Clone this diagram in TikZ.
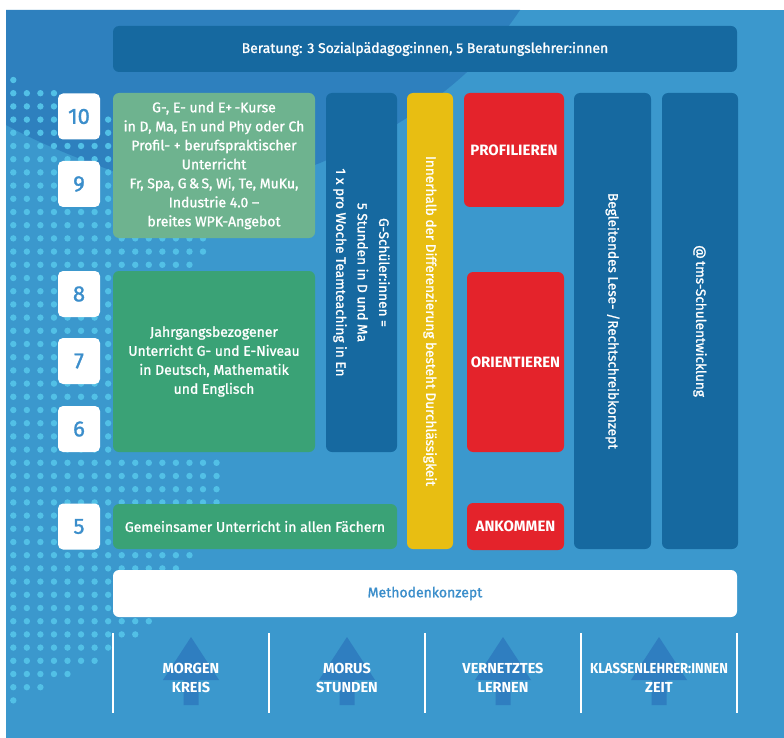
\documentclass[tikz,border=0pt]{standalone}
\usepackage{fontspec}
\setmainfont{Fira Sans}
\newfontfamily\boxfont{Fira Sans}[FakeBold=1.3, Ligatures=TeX]
\usetikzlibrary{positioning}

\definecolor{bgdark}{RGB}{46,128,190}
\definecolor{bglight}{RGB}{59,152,205}
\definecolor{dotblue}{RGB}{82,192,230}
\definecolor{barblue}{RGB}{22,105,160}
\definecolor{numblue}{RGB}{59,142,203}
\definecolor{wpkgreen}{RGB}{110,179,143}
\definecolor{jgreen}{RGB}{58,162,118}
\definecolor{dyellow}{RGB}{232,190,18}
\definecolor{stepred}{RGB}{228,35,43}
\definecolor{arrowblue}{RGB}{47,126,192}

\begin{document}
\begin{tikzpicture}[
	x=1pt, y=-1pt,
	every node/.style={inner sep=0, outer sep=0},
	tile/.style={rounded corners=6pt, text=white, align=center, font=\boxfont\fontsize{14}{19}\selectfont},
	yearbox/.style={fill=white, rounded corners=5pt, minimum width=42, minimum height=46, text=numblue, font=\boxfont\fontsize{22}{22}\selectfont},
	stepbox/.style={tile, fill=stepred, font=\bfseries\fontsize{15}{16}\selectfont},
	upright/.style={tile, fill=barblue, rotate=-90},
	bottomlabel/.style={text=white, align=center, font=\bfseries\fontsize{14.5}{19}\selectfont}
	]
	\useasboundingbox (0,0) rectangle (784,738);
	\fill[white] (0,0) rectangle (784,738);
	\fill[bglight] (6,10) rectangle (784,738);
	\fill[bgdark] (6,10) -- (520,10) .. controls (480,70) and (420,120) .. (320,163)
		.. controls (250,190) and (150,185) .. (110,170)
		.. controls (60,152) and (30,138) .. (6,125) -- cycle;
	% dot field on the left
	\foreach \j/\n in {0/0,1/3,2/3,3/7,4/7,5/7,6/7,7/7,8/7,9/7,10/7,11/7,12/14,13/14,14/13,
		15/7,16/7,17/7,18/7,19/7,20/7,21/7,22/7,23/7,24/7,25/7,26/7,27/7,28/7,
		29/15,30/15,31/15,32/15,33/7,34/7,35/7,36/13,37/12,38/12,39/12,40/12,
		41/10,42/9,43/7,44/6,45/4,46/2,47/0}
		\foreach \k in {0,...,\n}
			\fill[dotblue] (13.3+13.55*\k, 80+13.2*\j) circle (3.2);

	\node[tile, fill=barblue, minimum width=624, minimum height=46] (beratung) at (425,49)
		{Beratung: 3 Sozialpädagog:innen, 5 Beratungslehrer:innen};

	\node[yearbox] (y10) at (79,116.5) {10};
	\node[yearbox] (y9) at (79,184) {9};
	\node[yearbox] (y8) at (79,294) {8};
	\node[yearbox] (y7) at (79,361) {7};
	\node[yearbox] (y6) at (79,429) {6};
	\node[yearbox] (y5) at (79,526.5) {5};

	\node[tile, fill=wpkgreen, minimum width=202, minimum height=145] (wpk) at (214,165.5)
		{G-, E- und E+\,-Kurse\\in D, Ma, En und Phy oder Ch\\Profil- + berufspraktischer\\Unterricht\\Fr, Spa, G\,\&\,S, Wi, Te, MuKu,\\Industrie 4.0 –\\breites WPK-Angebot};
	\node[tile, fill=jgreen, minimum width=202, minimum height=181] (jahrgang) at (214,361.5)
		{Jahrgangsbezogener\\Unterricht G- und E-Niveau\\in Deutsch, Mathematik\\und Englisch};
	\node[tile, fill=jgreen, minimum width=284, minimum height=45] (gemeinsam) at (255,526.5)
		{Gemeinsamer Unterricht in allen Fächern};

	\node[upright, minimum width=359, minimum height=71, font=\boxfont\fontsize{13.6}{21.5}\selectfont] (gschueler) at (361.5,272.5)
		{G-Schüler:innen =\\5 Stunden in D und Ma\\1 x pro Woche Teamteaching in En};
	\node[upright, fill=dyellow, minimum width=456, minimum height=46, font=\boxfont\fontsize{13.6}{19}\selectfont] (durchlass) at (430,321)
		{Innerhalb der Differenzierung besteht Durchlässigkeit};

	\node[stepbox, minimum width=100, minimum height=114] (profil) at (514,150) {PROFILIEREN};
	\node[stepbox, minimum width=97, minimum height=180] (orient) at (515.5,362) {ORIENTIEREN};
	\node[stepbox, minimum width=97, minimum height=47] (ankommen) at (515.5,526.5) {ANKOMMEN};

	\node[upright, minimum width=456, minimum height=77, font=\boxfont\fontsize{13.6}{19}\selectfont] (lese) at (612.5,321)
		{Begleitendes Lese- /Rechtschreibkonzept};
	\node[upright, minimum width=456, minimum height=76, font=\boxfont\fontsize{13.6}{19}\selectfont] (tms) at (700,321)
		{@\,tms-Schulentwicklung};

	\node[tile, fill=white, text=numblue, minimum width=624, minimum height=47] (methode) at (425,593.5)
		{Methodenkonzept};

	% pillars under the method concept
	\foreach \x in {113,269,425,581,737}
		\draw[white, line width=2.2pt] (\x,633) -- (\x,713);
	\foreach \c in {191,347,503,659}
		\fill[arrowblue] (\c,637) -- (\c+28,680) -- (\c+7.5,680) -- (\c+7.5,705)
			-- (\c-7.5,705) -- (\c-7.5,680) -- (\c-28,680) -- cycle;
	\node[bottomlabel] (morgen) at (191,677.5) {MORGEN\\KREIS};
	\node[bottomlabel] (morus) at (347,677.5) {MORUS\\STUNDEN};
	\node[bottomlabel] (vernetzt) at (503,677.5) {VERNETZTES\\LERNEN};
	\node[bottomlabel] (klassen) at (659,677.5) {\scalebox{0.9}[1]{KLASSENLEHRER:INNEN}\\ZEIT};
\end{tikzpicture}
\end{document}
